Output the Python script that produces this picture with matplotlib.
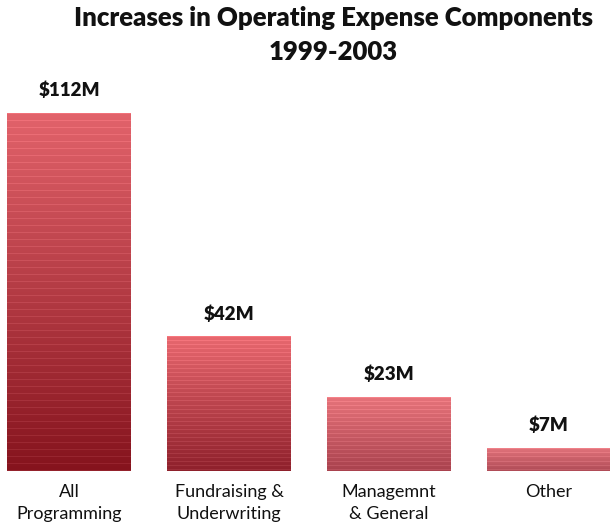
import matplotlib
matplotlib.use('Agg')
import matplotlib.pyplot as plt
from matplotlib.colors import to_rgb
import numpy as np

# expense increases, 1999-2003 ($ millions)
categories = ['All\nProgramming', 'Fundraising &\nUnderwriting', 'Managemnt\n& General', 'Other']
values = [112, 42, 23, 7]
value_labels = ['$112M', '$42M', '$23M', '$7M']

# gradient ends for each bar (top -> bottom)
top_colors = ['#e2636b', '#e8686f', '#e6737a', '#e0727a']
bottom_colors = ['#85131d', '#8e202b', '#a9424e', '#b04c57']

plt.rcParams['font.family'] = ['Lato', 'DejaVu Sans']

W, H = 610, 531
fig = plt.figure(figsize=(W / 100, H / 100), dpi=100)

# axes spans the full width; baseline sits 60px above the bottom
base_px = 471
top_px = 60
ax = fig.add_axes([0, (H - base_px) / H, 1, (base_px - top_px) / H])
pitch = 159.7
x0 = 69.5
ax.set_xlim(-x0 / pitch, (W - x0) / pitch)
ymax = values[0] * (base_px - top_px) / (base_px - 113)
ax.set_ylim(0, ymax)
ax.axis('off')

bar_w = 124 / pitch
px_per_unit = (base_px - top_px) / ymax

for i, v in enumerate(values):
    rows = max(int(round(v * px_per_unit)), 2)
    t = np.linspace(0, 1, rows)[:, None]
    c0 = np.array(to_rgb(top_colors[i]))
    c1 = np.array(to_rgb(bottom_colors[i]))
    img = (1 - t) * c0 + t * c1
    # faint light stripes across the bar
    period = 7 if v > 80 else 4
    stripe = (np.arange(rows) % period == 0)[:, None]
    img = np.where(stripe, img + 0.06, img)
    img = np.clip(img, 0, 1)[:, None, :]
    ax.imshow(img, extent=(i - bar_w / 2, i + bar_w / 2, 0, v),
              aspect='auto', interpolation='nearest', origin='upper', zorder=2)
    ax.text(i, v + 23 / px_per_unit, value_labels[i], ha='center', va='center',
            fontsize=13.5, fontweight='heavy', color='#111111')
    ax.text(i, -13 / px_per_unit, categories[i], ha='center', va='top',
            fontsize=13, color='#111111', linespacing=1.45)

ax.set_xlim(-x0 / pitch, (W - x0) / pitch)
ax.set_ylim(0, ymax)

fig.text(333 / W, 1 - 35 / H, 'Increases in Operating Expense Components\n1999-2003',
         ha='center', va='center', fontsize=18.5, fontweight='heavy',
         color='#111111', linespacing=1.45)

fig.savefig('out.png', dpi=100)
plt.close(fig)
